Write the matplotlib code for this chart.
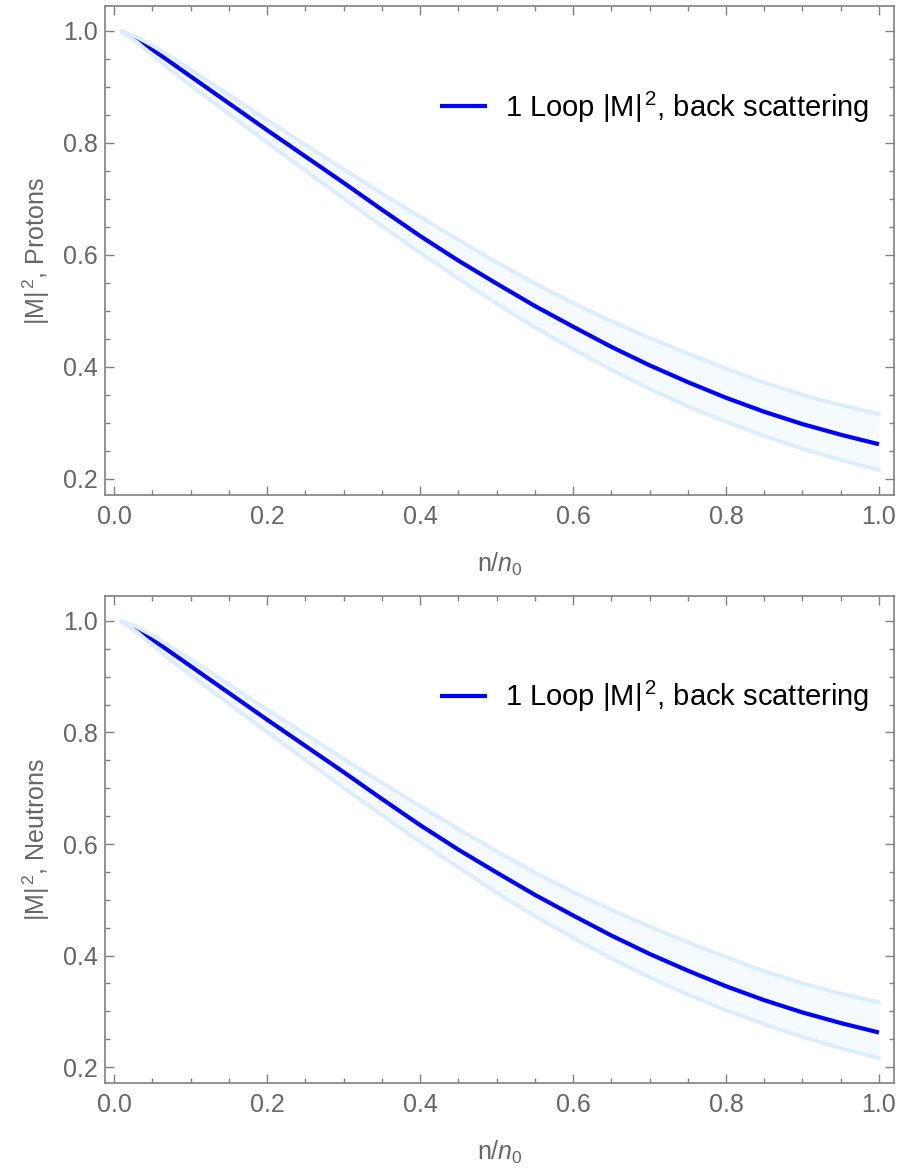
import numpy as np
import matplotlib
matplotlib.use("Agg")
import matplotlib.pyplot as plt
from matplotlib.ticker import MultipleLocator

plt.rcParams['font.family'] = ['Liberation Sans', 'DejaVu Sans']
plt.rcParams['mathtext.fontset'] = 'custom'
plt.rcParams['mathtext.rm'] = 'Liberation Sans'
plt.rcParams['mathtext.it'] = 'Liberation Sans:italic'

# density ratio n/n0
density = [0.01, 0.03, 0.05, 0.075, 0.10, 0.15, 0.20, 0.25, 0.30, 0.35, 0.40, 0.45, 0.50,
           0.55, 0.60, 0.65, 0.70, 0.75, 0.80, 0.85, 0.90, 0.95, 1.00]

# protons: 1 loop |M|^2, back scattering, with uncertainty band
proton_mid = [0.999, 0.985, 0.967, 0.943, 0.919, 0.871, 0.823, 0.776, 0.729, 0.681, 0.634, 0.590, 0.549,
              0.509, 0.472, 0.436, 0.403, 0.373, 0.345, 0.320, 0.298, 0.279, 0.262]
proton_hi = [1.000, 0.989, 0.974, 0.953, 0.931, 0.886, 0.841, 0.797, 0.753, 0.710, 0.668, 0.627, 0.587,
             0.549, 0.514, 0.482, 0.452, 0.424, 0.397, 0.372, 0.350, 0.332, 0.316]
proton_lo = [0.998, 0.980, 0.957, 0.929, 0.903, 0.852, 0.801, 0.751, 0.701, 0.652, 0.604, 0.558, 0.513,
             0.471, 0.432, 0.395, 0.361, 0.330, 0.302, 0.277, 0.254, 0.234, 0.216]

# neutrons (same curves)
neutron_mid = list(proton_mid)
neutron_hi = list(proton_hi)
neutron_lo = list(proton_lo)

panels = [
    ("|M|$^{\\,2}$, Protons", proton_mid, proton_lo, proton_hi),
    ("|M|$^{\\,2}$, Neutrons", neutron_mid, neutron_lo, neutron_hi),
]

gray = "#666666"
frame = "#808080"

fig = plt.figure(figsize=(9, 11.71), dpi=100)
boxes = [[0.1167, 0.5773, 0.8766, 0.4176], [0.1167, 0.0751, 0.8766, 0.4159]]

for (ylab, mid, lo, hi), box in zip(panels, boxes):
    ax = fig.add_axes(box)
    ax.fill_between(density, lo, hi, color="#F5FAFF", lw=0, zorder=1)
    ax.plot(density, mid, color="#0000FF", lw=3.0, zorder=2, solid_capstyle="butt",
            label="1 Loop |M|$^{\\,2}$, back scattering")
    # band edges sit on top of the central line
    ax.plot(density, hi, color="#DCEDFF", lw=2.8, zorder=3, solid_capstyle="round")
    ax.plot(density, lo, color="#DCEDFF", lw=2.8, zorder=3, solid_capstyle="round")

    ax.set_xlim(-0.0118, 1.0196)
    ax.set_ylim(0.1714, 1.0446)
    ax.xaxis.set_major_locator(MultipleLocator(0.2))
    ax.xaxis.set_minor_locator(MultipleLocator(0.05))
    ax.yaxis.set_major_locator(MultipleLocator(0.2))
    ax.yaxis.set_minor_locator(MultipleLocator(0.05))
    ax.xaxis.set_major_formatter(lambda v, p: f"{v:.1f}")
    ax.yaxis.set_major_formatter(lambda v, p: f"{v:.1f}")

    ax.tick_params(which="both", direction="in", top=True, right=True,
                   color=frame, labelcolor=gray, labelsize=18, width=1.0)
    ax.tick_params(which="major", length=6.5)
    ax.tick_params(which="minor", length=3.5)
    ax.tick_params(axis="x", pad=7)
    ax.tick_params(axis="y", pad=5)
    for s in ax.spines.values():
        s.set_color(frame)
        s.set_linewidth(1.2)

    ax.set_xlabel("n/$\\mathit{n}_0$", color=gray, fontsize=18, labelpad=16)
    ax.set_ylabel(ylab, color=gray, fontsize=18, labelpad=8)

    ax.legend(loc="center left", bbox_to_anchor=(0.4246, 0.7935), frameon=False,
              fontsize=21, handlelength=1.6, handletextpad=0.64,
              borderpad=0, borderaxespad=0)

fig.savefig("out.png", dpi=100)
